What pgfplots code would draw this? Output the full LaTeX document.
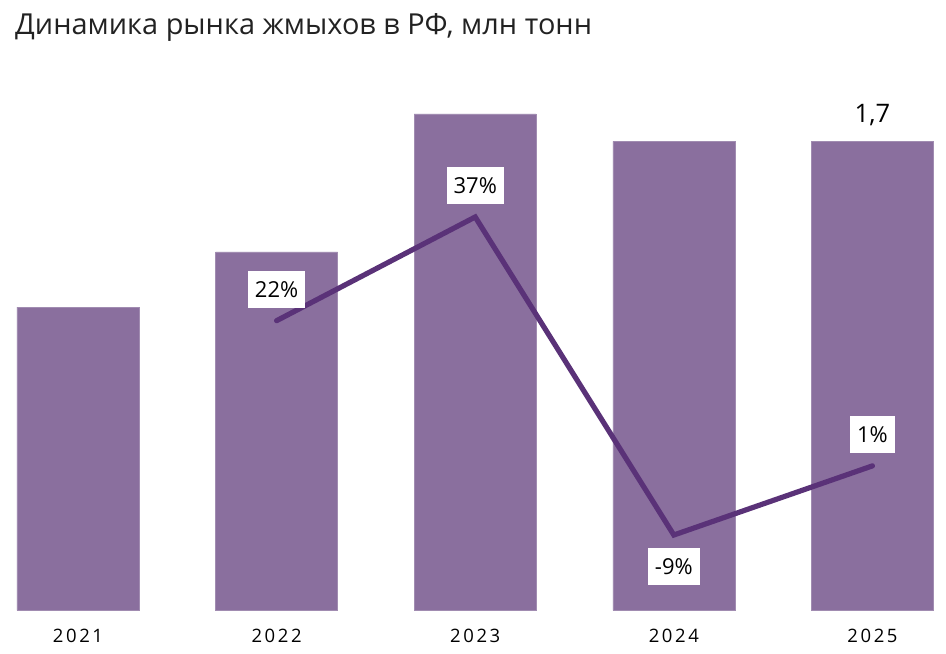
\documentclass[border=0pt]{standalone}
\usepackage{fontspec}
\setmainfont{Open Sans}
\usepackage{pgfplots}
\pgfplotsset{compat=1.18}
\definecolor{barcol}{HTML}{8A6F9E}
\definecolor{linecol}{HTML}{5A3278}
\definecolor{titlecol}{HTML}{222222}
\begin{document}
\begin{tikzpicture}[x=1bp,y=1bp]
\path[use as bounding box] (0,0) rectangle (946,654);
\node[anchor=base west, inner sep=0, font=\fontsize{28.9bp}{32bp}\selectfont, text=titlecol] at (15,619.5) {Динамика рынка жмыхов в РФ, млн тонн};
\begin{axis}[at={(17bp,43.5bp)}, anchor=south west, scale only axis,
  width=917bp, height=510.4bp,
  xmin=-0.307, xmax=4.31, ymin=0, ymax=1.85,
  axis line style={draw=none}, ytick=\empty,
  xtick={0,1,2,3,4}, xticklabels={2021,2022,2023,2024,2025},
  major tick length=0pt,
  x tick label style={anchor=base, yshift=-32.2bp, text=black,
    font=\fontsize{18.5bp}{20bp}\selectfont\addfontfeature{LetterSpace=14}},
  clip=false]
\addplot[ybar, bar width=122bp, fill=barcol, draw=barcol!80!white, line width=0.6bp]
  coordinates {(0,1.10) (1,1.30) (2,1.80) (3,1.70) (4,1.70)};
\addplot[draw=none, mark=none, nodes near coords, point meta=explicit symbolic,
  every node near coord/.style={anchor=base, yshift=18.7bp, inner sep=0, text=black,
    font=\fontsize{25.5bp}{28bp}\selectfont}]
  coordinates {(4,1.70) [1{,}7]};
\end{axis}
\begin{axis}[at={(17bp,43.5bp)}, anchor=south west, scale only axis,
  width=917bp, height=510.4bp,
  xmin=-0.307, xmax=4.31, ymin=-19.92, ymax=53.91,
  hide axis, clip=false]
\addplot[linecol, line width=5.2bp, line cap=round, line join=miter, mark=none]
  coordinates {(1,22) (2,37) (3,-9) (4,1)};
\addplot[draw=none, mark=none, nodes near coords, point meta=explicit symbolic,
  every node near coord/.style={anchor=center, yshift=31.5bp, fill=white,
    inner xsep=7bp, inner ysep=0pt, minimum height=37bp, text=black,
    font=\fontsize{22bp}{24bp}\selectfont}]
  coordinates {(1,22) [22\%] (2,37) [37\%] (4,1) [1\%]};
\addplot[draw=none, mark=none, nodes near coords, point meta=explicit symbolic,
  every node near coord/.style={anchor=center, yshift=-31.5bp, fill=white,
    inner xsep=7bp, inner ysep=0pt, minimum height=37bp, text=black,
    font=\fontsize{22bp}{24bp}\selectfont}]
  coordinates {(3,-9) [-9\%]};
\end{axis}
\end{tikzpicture}
\end{document}
